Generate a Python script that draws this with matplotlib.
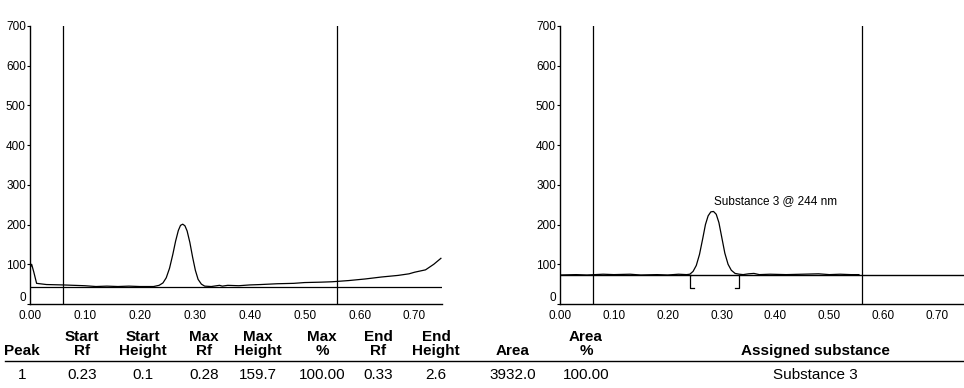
import numpy as np
import matplotlib
matplotlib.use('Agg')
import matplotlib.pyplot as plt

plt.rcParams['font.family'] = ['Liberation Sans', 'DejaVu Sans']

# left scan (Rf, height)
left_rf = [0.000, 0.003, 0.007, 0.012, 0.03, 0.06, 0.08, 0.10, 0.12, 0.14, 0.16, 0.18,
           0.20, 0.225, 0.235, 0.242, 0.248, 0.254, 0.260, 0.265, 0.270, 0.274, 0.278,
           0.282, 0.286, 0.291, 0.296, 0.301, 0.306, 0.312, 0.318, 0.33, 0.345, 0.35,
           0.36, 0.38, 0.40, 0.42, 0.45, 0.48, 0.50, 0.53, 0.55, 0.58, 0.61, 0.64,
           0.67, 0.69, 0.70, 0.72, 0.735, 0.748]
left_h = [90, 100, 80, 52, 49, 48, 47, 46, 44, 45, 44, 45,
          44, 44, 47, 53, 66, 90, 125, 158, 185, 198, 201,
          197, 184, 155, 118, 85, 62, 50, 45, 44, 47, 45,
          47, 46, 48, 49, 51, 52, 54, 55, 56, 59, 63, 68,
          72, 76, 80, 86, 100, 115]
left_base = 43
left_marks = [0.06, 0.558]

# right scan
right_rf = [0.000, 0.03, 0.05, 0.08, 0.10, 0.13, 0.15, 0.18, 0.20, 0.22, 0.235, 0.241,
            0.247, 0.253, 0.259, 0.265, 0.270, 0.275, 0.280, 0.285, 0.290, 0.295,
            0.300, 0.306, 0.312, 0.318, 0.325, 0.333, 0.34, 0.35, 0.36, 0.37, 0.39,
            0.42, 0.45, 0.48, 0.50, 0.52, 0.54, 0.555]
right_h = [73, 74, 73, 75, 74, 75, 73, 74, 73, 75, 74, 75,
           82, 97, 125, 165, 200, 222, 232, 233, 226, 205,
           170, 128, 100, 85, 77, 75, 74, 76, 77, 74, 75,
           74, 75, 76, 74, 75, 74, 74]
right_base = 73
right_marks = [0.061, 0.56]
peak_start, peak_end, bracket_low = 0.241, 0.333, 40
peak_label = 'Substance 3 @ 244 nm'
label_pos = (0.285, 244)

xticks = [0.0, 0.1, 0.2, 0.3, 0.4, 0.5, 0.6, 0.7]
yticks = [0, 100, 200, 300, 400, 500, 600, 700]

# results table
head_top = ['', 'Start', 'Start', 'Max', 'Max', 'Max', 'End', 'End', '', 'Area', '']
head_bot = ['Peak', 'Rf', 'Height', 'Rf', 'Height', '%', 'Rf', 'Height', 'Area', '%',
            'Assigned substance']
row1 = ['1', '0.23', '0.1', '0.28', '159.7', '100.00', '0.33', '2.6', '3932.0', '100.00',
        'Substance 3']
col_px = [22, 82, 143, 204, 258, 322, 378, 436, 513, 586, 815]

W, H = 964, 388
fig = plt.figure(figsize=(W / 100, H / 100), dpi=100)
ax1 = fig.add_axes([30 / W, 84 / H, 412 / W, 278 / H])
ax2 = fig.add_axes([560 / W, 84 / H, 404 / W, 278 / H])


def style(ax):
    ax.set_xlim(0, 0.75)
    ax.set_ylim(0, 700)
    ax.set_xticks(xticks)
    ax.set_xticklabels(['%.2f' % t for t in xticks])
    ax.set_yticks(yticks)
    for s in ['top', 'right']:
        ax.spines[s].set_visible(False)
    for s in ['left', 'bottom']:
        ax.spines[s].set_linewidth(1.0)
    ax.tick_params(axis='y', length=2, width=0.8, pad=1, labelsize=8.5)
    ax.tick_params(axis='x', length=0, pad=4, labelsize=8.5)
    # the "0" sits just above the 0.00 label, as in the scan
    ax.get_yticklabels()[0].set_va('bottom')


style(ax1)
ax1.plot(left_rf, left_h, color='black', lw=0.9)
ax1.axhline(left_base, xmin=0, xmax=1, color='black', lw=0.9)
for m in left_marks:
    ax1.axvline(m, color='black', lw=0.9)

style(ax2)
ax2.plot(right_rf, right_h, color='black', lw=0.9)
ax2.axhline(right_base, color='black', lw=1.0)
for m in right_marks:
    ax2.axvline(m, color='black', lw=0.9)
tick = 0.008
ax2.plot([peak_start + tick, peak_start, peak_start, peak_start + tick * 0.3],
         [bracket_low, bracket_low, right_base, right_base], color='black', lw=0.9)
ax2.plot([peak_end - tick, peak_end, peak_end],
         [bracket_low, bracket_low, right_base], color='black', lw=0.9)
ax2.text(label_pos[0], label_pos[1], peak_label, fontsize=8.5, ha='left', va='bottom')

# table
for x, a, b, c in zip(col_px, head_top, head_bot, row1):
    fig.text(x / W, 1 - 337 / H, a, ha='center', va='center', fontsize=11,
             fontweight='bold')
    fig.text(x / W, 1 - 351 / H, b, ha='center', va='center', fontsize=11,
             fontweight='bold')
    fig.text(x / W, 1 - 375 / H, c, ha='center', va='center', fontsize=11)
fig.add_artist(plt.Line2D([5 / W, 1], [1 - 361 / H, 1 - 361 / H], color='black', lw=1.0))

fig.savefig('out.png', dpi=100)
